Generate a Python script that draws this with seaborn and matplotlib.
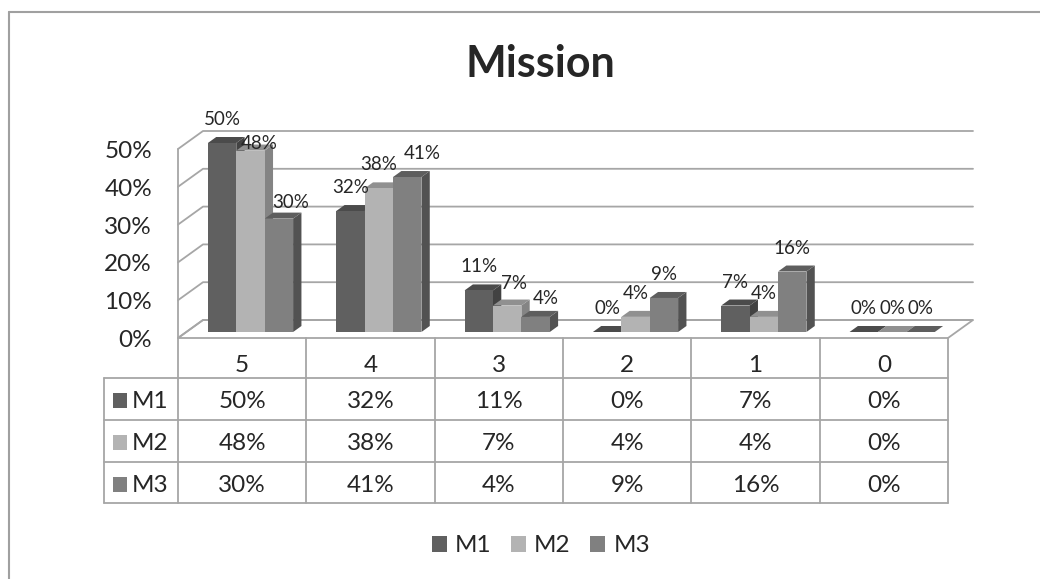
#### Mission chart ####
# 3D-style clustered columns with a data table underneath (Excel look-alike)

import numpy as np
import pandas as pd
import matplotlib
matplotlib.use("Agg")
import matplotlib.pyplot as plt
from matplotlib.patches import Polygon, Rectangle
import seaborn as sns

# Values
categories = ["5", "4", "3", "2", "1", "0"]
series = ["M1", "M2", "M3"]
m1 = [50, 32, 11, 0, 7, 0]
m2 = [48, 38, 7, 4, 4, 0]
m3 = [30, 41, 4, 9, 16, 0]
y_ticks = [0, 10, 20, 30, 40, 50]
title = "Mission"

# Colours
front_col = {"M1": "#606060", "M2": "#b3b3b3", "M3": "#808080"}
top_col = {"M1": "#4b4b4b", "M2": "#909090", "M3": "#5e5e5e"}
side_col = {"M1": "#424242", "M2": "#848484", "M3": "#525252"}
line_col = "#a6a6a6"

df = pd.DataFrame({
    "category": categories * 3,
    "series": [s for s in series for _ in categories],
    "value": m1 + m2 + m3,
})

sns.set_style("white")
plt.rcParams["font.family"] = ["Lato", "DejaVu Sans"]

W, H = 1040, 579
DX, DY = 25, 18          # full depth offset of the floor in pixels
FLOOR_L, FLOOR_R, FLOOR_Y = 178, 948, 338
PX_PER_UNIT = 3.78       # pixels per percentage point
FS = 17.5                # axis / table / legend text size

fig = plt.figure(figsize=(W / 100, H / 100), dpi=100)

# Pixel overlay for walls, floor, table and texts
px = fig.add_axes([0, 0, 1, 1], zorder=0)
px.set_xlim(0, W)
px.set_ylim(H, 0)
px.axis("off")

# Main axes = front plane of the bars (1/3 into the depth)
front_y = FLOOR_Y - DY / 3
ax_left = FLOOR_L + DX / 3
ax = fig.add_axes([ax_left / W, (H - front_y) / H,
                   (FLOOR_R - FLOOR_L) / W, 50 * PX_PER_UNIT / H], zorder=1)
ax.patch.set_alpha(0)

sns.barplot(data=df, x="category", y="value", hue="series", order=categories,
            hue_order=series, palette=front_col, saturation=1, width=0.664,
            errorbar=None, legend=False, ax=ax, linewidth=0)
ax.set_xlim(-0.5, len(categories) - 0.5)
ax.set_ylim(0, 50)
ax.axis("off")


def to_px(x, y, d):
    """Data point on the bar front plane pushed to depth d (0 front, 1 back)."""
    X, Y = ax.transData.transform((x, y))
    X, Y = px.transData.inverted().transform((X, Y))
    return X + (d - 1 / 3) * DX, Y - (d - 1 / 3) * DY


x_lo, x_hi = -0.5, len(categories) - 0.5

# Floor
floor = [to_px(x_lo, 0, 0), to_px(x_hi, 0, 0), to_px(x_hi, 0, 1), to_px(x_lo, 0, 1)]
px.add_patch(Polygon(floor, closed=True, facecolor="white", edgecolor=line_col, lw=1.3))

# Left wall front edge and gridlines
a = to_px(x_lo, 0, 0)
b = to_px(x_lo, 50, 0)
px.plot([a[0], b[0]], [a[1], b[1]], color=line_col, lw=1.3)
for v in y_ticks:
    p0 = to_px(x_lo, v, 0)
    p1 = to_px(x_lo, v, 1)
    p2 = to_px(x_hi, v, 1)
    px.plot([p0[0], p1[0], p2[0]], [p0[1], p1[1], p2[1]], color=line_col, lw=1.3)
    px.text(152, p0[1] + 9, f"{v}%", ha="right", va="baseline", fontsize=FS)

# Bar tops and sides (drawn left to right, fronts come from seaborn on top)
bars = []
for s, cont in zip(series, ax.containers):
    for cat, patch in zip(categories, cont.patches):
        bars.append((patch.get_x(), patch.get_width(), patch.get_height(), s, cat))
bars.sort(key=lambda t: t[0])

label_nudge = {("M2", "5"): (9, 16), ("M3", "5"): (12, 7), ("M3", "4"): (15, 0),
               ("M2", "3"): (7, 1), ("M3", "3"): (10, 5)}

for k, (x0, w, h, s, cat) in enumerate(bars):
    x1 = x0 + w
    side = [to_px(x1, 0, 1 / 3), to_px(x1, h, 1 / 3), to_px(x1, h, 2 / 3), to_px(x1, 0, 2 / 3)]
    top = [to_px(x0, h, 1 / 3), to_px(x1, h, 1 / 3), to_px(x1, h, 2 / 3), to_px(x0, h, 2 / 3)]
    px.add_patch(Polygon(side, closed=True, facecolor=side_col[s], lw=0, zorder=3 + k * 0.01))
    px.add_patch(Polygon(top, closed=True, facecolor=top_col[s], lw=0, zorder=3 + k * 0.01))
    cx, ty = to_px(x0 + w / 2, h, 1 / 3)
    nx, ny = label_nudge.get((s, cat), (0, 0))
    ax.text(cx + nx, ty - 18 + ny, f"{h:.0f}%", ha="center", va="baseline",
            fontsize=13.5, transform=px.transData, zorder=5)

# Data table
col_edges = [to_px(i - 0.5, 0, 0)[0] for i in range(len(categories) + 1)]
tab_top = FLOOR_Y
row_edges = [tab_top, 378, 420, 462, 503]
tab_left = 104
for y in row_edges[1:]:
    px.plot([tab_left, col_edges[-1]], [y, y], color=line_col, lw=1.3)
for x in col_edges:
    px.plot([x, x], [tab_top, row_edges[-1]], color=line_col, lw=1.3)
px.plot([tab_left, tab_left], [row_edges[1], row_edges[-1]], color=line_col, lw=1.3)

for i, cat in enumerate(categories):
    cx = (col_edges[i] + col_edges[i + 1]) / 2
    px.text(cx, 372, cat, ha="center", va="baseline", fontsize=FS)

values = {"M1": m1, "M2": m2, "M3": m3}
for r, s in enumerate(series):
    base = 408 + 42 * r
    px.add_patch(Rectangle((113, base - 15), 14, 15, facecolor=front_col[s], lw=0))
    px.text(132, base, s, ha="left", va="baseline", fontsize=FS)
    for i, v in enumerate(values[s]):
        cx = (col_edges[i] + col_edges[i + 1]) / 2
        px.text(cx, base, f"{v}%", ha="center", va="baseline", fontsize=FS)

# Title
px.text(540, 77, title, ha="center", va="baseline", fontsize=31, fontweight="bold")

# Legend
handles = [Rectangle((0, 0), 1, 1, facecolor=front_col[s], lw=0) for s in series]
ax.legend(handles, series, loc="center", bbox_to_anchor=(541 / W, 1 - 546 / H),
          bbox_transform=fig.transFigure, ncol=3, frameon=False, fontsize=FS,
          handlelength=0.6, handleheight=0.6, handletextpad=0.35, columnspacing=0.8)

# Chart area border
px.plot([9, W], [12, 12], color="#a0a0a0", lw=1.5)
px.plot([9, 9], [12, H], color="#a0a0a0", lw=1.5)

fig.savefig("out.png", dpi=100)
